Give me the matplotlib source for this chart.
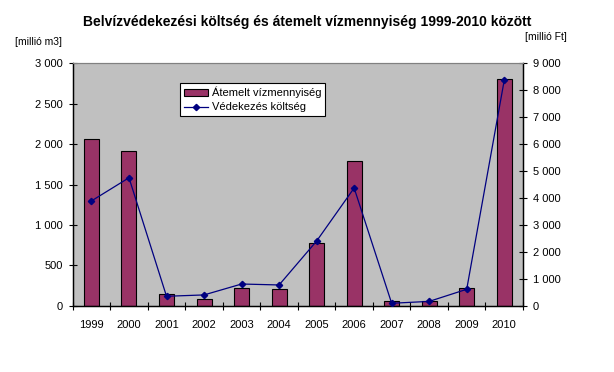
import matplotlib
matplotlib.use("Agg")
import matplotlib.pyplot as plt
from matplotlib.ticker import FuncFormatter, FixedLocator
from matplotlib.lines import Line2D
from matplotlib.patches import Patch
import numpy as np

plt.rcParams['font.family'] = ['Liberation Sans', 'DejaVu Sans']

years = ['1999', '2000', '2001', '2002', '2003', '2004',
         '2005', '2006', '2007', '2008', '2009', '2010']
# pumped water volume [million m3]
volume = [2060, 1920, 145, 80, 215, 205, 772, 1787, 55, 60, 215, 2800]
# protection cost [million Ft]
cost = [3890, 4750, 350, 400, 805, 770, 2400, 4370, 90, 160, 610, 8370]

bar_color = '#993366'
line_color = '#000080'


def thousands(v, pos):
    return f"{int(v):,}".replace(",", " ")


fig = plt.figure(figsize=(6.14, 3.72), dpi=100)
ax = fig.add_axes([72.7 / 614, 1 - 305.7 / 372, (523 - 72.7) / 614, (305.7 - 63.3) / 372])
ax2 = ax.twinx()

x = np.arange(len(years))
ax.set_facecolor('#C0C0C0')
ax.bar(x, volume, width=0.4, color=bar_color, edgecolor='black', linewidth=0.8, zorder=2)
ax2.plot(x, cost, color=line_color, linewidth=0.9, marker='D', markersize=3.2,
         markerfacecolor=line_color, markeredgecolor=line_color, zorder=3)

ax.set_xlim(-0.5, len(years) - 0.5)
ax.set_ylim(0, 3000)
ax2.set_ylim(0, 9000)
ax.set_yticks(np.arange(0, 3001, 500))
ax2.set_yticks(np.arange(0, 9001, 1000))
ax.yaxis.set_major_formatter(FuncFormatter(thousands))
ax2.yaxis.set_major_formatter(FuncFormatter(thousands))

# category boundaries as tick marks, labels in the middle
ax.xaxis.set_major_locator(FixedLocator(np.arange(-0.5, len(years), 1.0)))
ax.xaxis.set_major_formatter(FuncFormatter(lambda v, p: ""))
ax.xaxis.set_minor_locator(FixedLocator(x))
ax.set_xticklabels(years, minor=True)
ax.tick_params(axis='x', which='minor', length=0, labelsize=8, pad=10)
ax.tick_params(axis='x', which='major', direction='inout', length=6, width=0.8)
ax.tick_params(axis='y', direction='inout', length=6, width=0.8, labelsize=8, pad=4)
ax2.tick_params(axis='y', direction='inout', length=6, width=0.8, labelsize=8, pad=4)

for a in (ax, ax2):
    a.spines['top'].set_color('#808080')
    a.spines['top'].set_linewidth(0.8)
    for s in ('left', 'right', 'bottom'):
        a.spines[s].set_linewidth(0.9)

fig.text(0.5, 1 - 22 / 372, 'Belvízvédekezési költség és átemelt vízmennyiség 1999-2010 között',
         ha='center', va='center', fontsize=10, fontweight='bold')
fig.text(15 / 614, 1 - 42 / 372, '[millió m3]', ha='left', va='center', fontsize=7.5)
fig.text(525 / 614, 1 - 37 / 372, '[millió Ft]', ha='left', va='center', fontsize=7.5)

handles = [Patch(facecolor=bar_color, edgecolor='black', linewidth=0.8),
           Line2D([], [], color=line_color, linewidth=0.9, marker='D', markersize=3.2)]
leg = ax2.legend(handles, ['Átemelt vízmennyiség', 'Védekezés költség'],
                 loc='upper left', bbox_to_anchor=(180 / 614, 1 - 83 / 372),
                 bbox_transform=fig.transFigure, borderaxespad=0, fontsize=8,
                 frameon=True, fancybox=False, edgecolor='black', framealpha=1,
                 handlelength=2.2, handleheight=0.6, handletextpad=0.3,
                 labelspacing=0.35, borderpad=0.35)
leg.get_frame().set_linewidth(0.8)

fig.savefig('out.png', dpi=100, facecolor='white')
